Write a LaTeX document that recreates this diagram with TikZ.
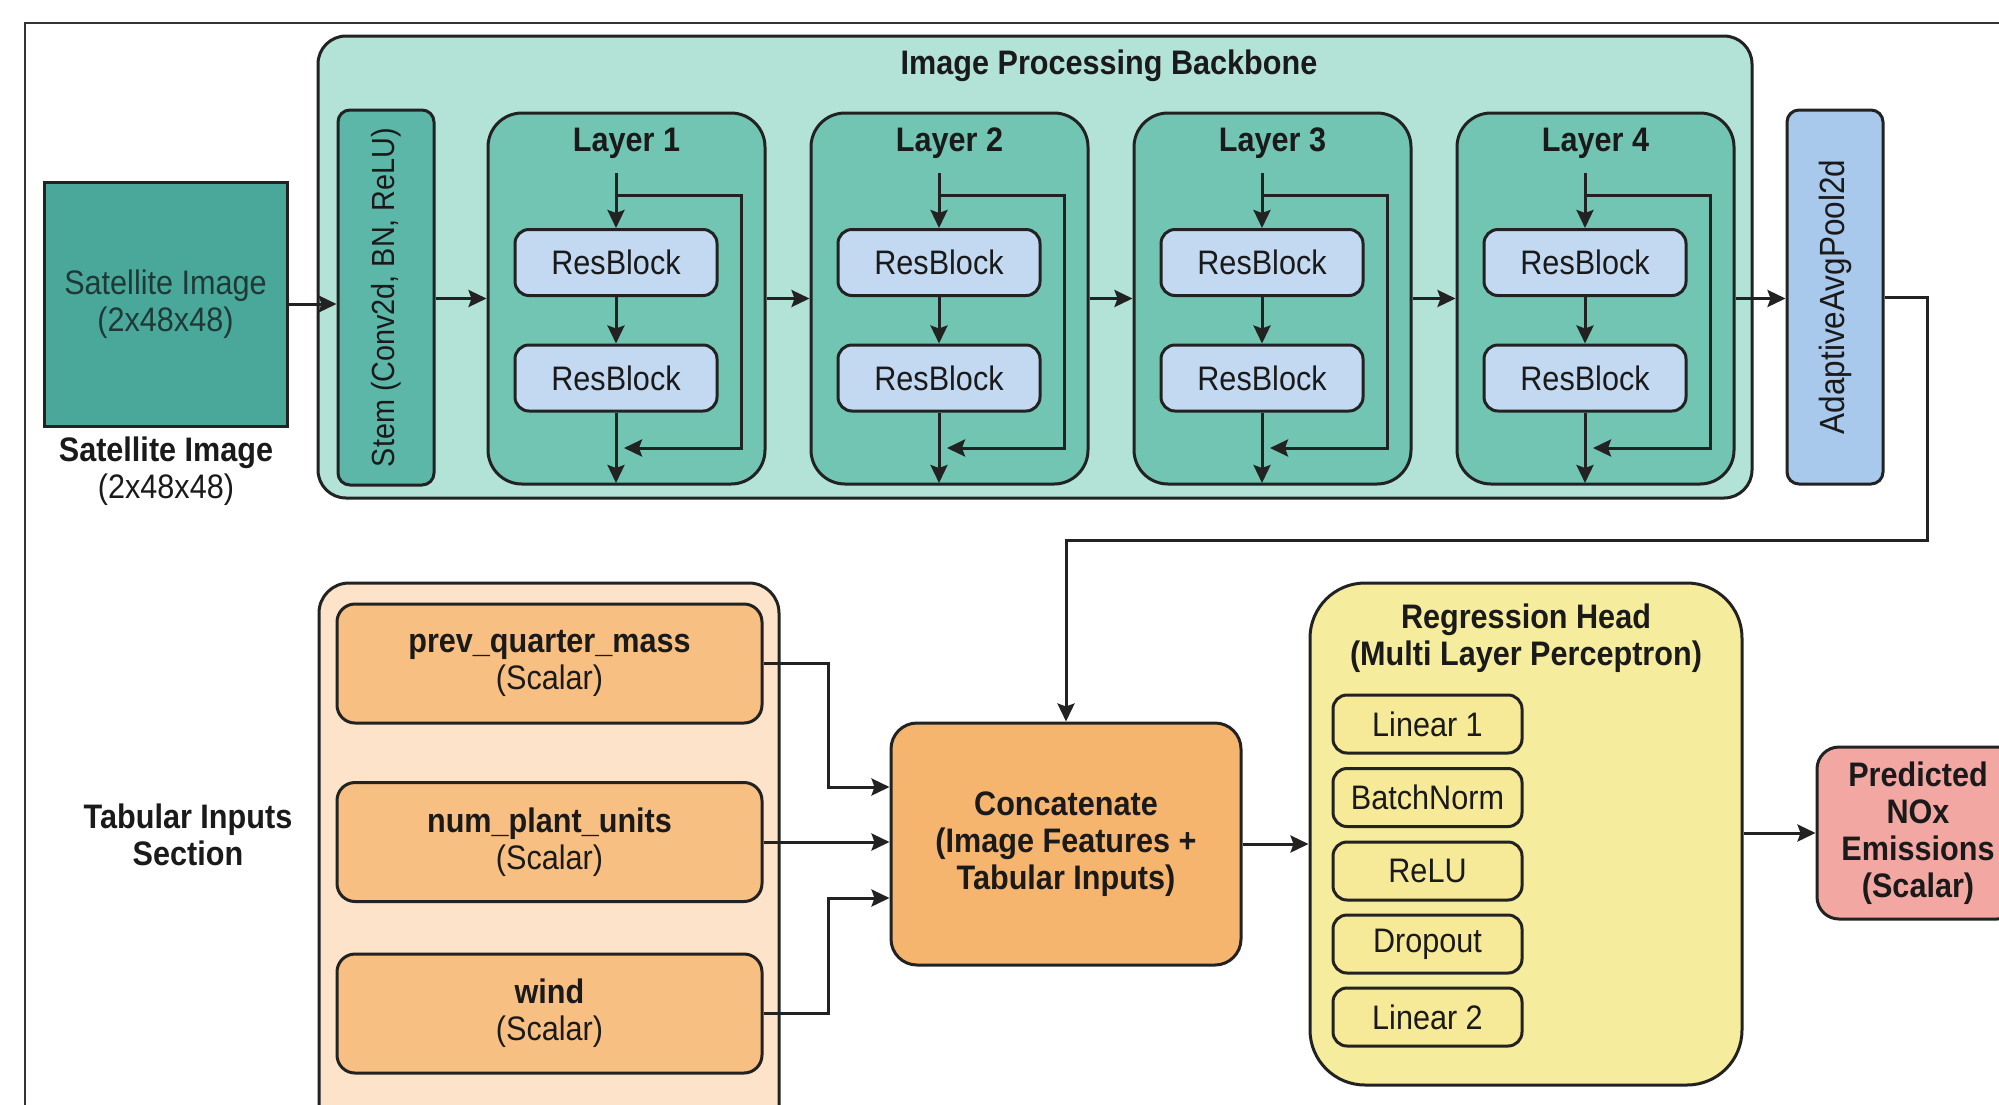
\documentclass[tikz,border=0pt]{standalone}
\usepackage{fontspec}
\setmainfont{Liberation Sans}[FakeStretch=0.9]
\usetikzlibrary{arrows.meta,calc}
\definecolor{edge}{HTML}{222222}
\definecolor{txt}{HTML}{1A1A1A}
\definecolor{framec}{HTML}{333333}
\definecolor{bbc}{HTML}{B3E3D7}
\definecolor{satc}{HTML}{4AA89B}
\definecolor{stemc}{HTML}{5CB7A8}
\definecolor{layerc}{HTML}{72C5B2}
\definecolor{resc}{HTML}{C3D9F2}
\definecolor{poolc}{HTML}{A8C9EC}
\definecolor{tabc}{HTML}{FCE3C9}
\definecolor{tabbox}{HTML}{F8BF82}
\definecolor{catc}{HTML}{F6B56E}
\definecolor{headc}{HTML}{F6EC9D}
\definecolor{mlpc}{HTML}{F6EA98}
\definecolor{predc}{HTML}{F2A7A2}
\definecolor{sattxt}{HTML}{1F3A36}
\begin{document}
\begin{tikzpicture}[x=1pt,y=-1pt,
  font=\fontsize{34}{37}\selectfont,
  bx/.style={draw=edge,line width=3pt,inner sep=0pt,align=center,text=txt},
  bold/.style={font=\fontsize{34}{37}\selectfont\bfseries,text=txt,align=center,inner sep=0pt},
  plain/.style={text=txt,align=center,inner sep=0pt},
  arr/.style={draw=edge,line width=3pt,-{Stealth[length=18pt,width=17pt,inset=3pt]}},
]
\useasboundingbox (0,0) rectangle (1999,1104);
\clip (0,0) rectangle (1999,1104);
\fill[white] (0,0) rectangle (1999,1104);
% outer frame
\draw[draw=framec,line width=2pt] (25,1120) -- (25,23) -- (2020,23);

% backbone container
\node[bx,fill=bbc,minimum width=1434pt,minimum height=462pt,rounded corners=28pt] (bb) at (1035,267) {};
\node[bold] (bbtitle) at (1109,66) {Image Processing Backbone};

% satellite image
\node[bx,fill=satc,minimum width=243pt,minimum height=244pt,text=sattxt] (sat) at (165.5,304) {Satellite Image\\(2x48x48)};
\node[plain] (satlbl) at (166,471) {{\bfseries Satellite Image}\\(2x48x48)};

% stem (rotated: north = left side, south = right side)
\node[bx,fill=stemc,minimum width=375pt,minimum height=96pt,rounded corners=12pt,rotate=90,font=\fontsize{32}{36}\selectfont] (stem) at (386,297.5) {Stem (Conv2d, BN, ReLU)};

% layers
\foreach \k [evaluate=\k as \n using int(\k+1),
             evaluate=\k as \cx using 626.5+323*\k,
             evaluate=\k as \mx using 616+323*\k,
             evaluate=\k as \sx using 741+323*\k,
             evaluate=\k as \tx using 624+323*\k] in {0,1,2,3} {
  \node[bx,fill=layerc,minimum width=277pt,minimum height=371pt,rounded corners=34pt] (L\k) at (\cx,298.5) {};
  \node[bold] (LT\k) at (\cx,143) {Layer \n};
  \node[bx,fill=resc,minimum width=202pt,minimum height=66pt,rounded corners=14pt] (RA\k) at (\mx,262.5) {ResBlock};
  \node[bx,fill=resc,minimum width=202pt,minimum height=66pt,rounded corners=14pt] (RB\k) at (\mx,378) {ResBlock};
  \coordinate (in\k) at (\mx,173);
  \coordinate (out\k) at (\mx,483);
  \coordinate (s1\k) at (\mx,195);
  \coordinate (s2\k) at (\sx,195);
  \coordinate (s3\k) at (\sx,448);
  \coordinate (s4\k) at (\tx,448);
  \draw[arr] (in\k) -- (RA\k.north);
  \draw[arr] (RA\k.south) -- (RB\k.north);
  \draw[arr] (RB\k.south) -- (out\k);
  \draw[arr] (s1\k) -- (s2\k) -- (s3\k) -- (s4\k);
}

% pool (rotated: north = left side, south = right side)
\node[bx,fill=poolc,minimum width=374pt,minimum height=96pt,rounded corners=12pt,rotate=90,font=\fontsize{35}{38}\selectfont] (pool) at (1835,297) {AdaptiveAvgPool2d};

% backbone arrows
\draw[arr] (sat.east) -- (sat.east -| stem.north);
\draw[arr] (stem.south |- L0.west) -- (L0.west);
\draw[arr] (L0.east) -- (L1.west);
\draw[arr] (L1.east) -- (L2.west);
\draw[arr] (L2.east) -- (L3.west);
\draw[arr] (L3.east) -- (L3.east -| pool.north);

% tabular section
\node[bx,fill=tabc,minimum width=460pt,minimum height=560pt,rounded corners=30pt] (tab) at (549,863) {};
\node[bold] (tablbl) at (188,835) {Tabular Inputs\\Section};
\node[bx,fill=tabbox,minimum width=425pt,minimum height=119pt,rounded corners=18pt] (prev) at (549.5,663.5) {{\bfseries prev\_quarter\_mass}\\(Scalar)};
\node[bx,fill=tabbox,minimum width=425pt,minimum height=119pt,rounded corners=18pt] (num) at (549.5,842) {{\bfseries num\_plant\_units}\\(Scalar)};
\node[bx,fill=tabbox,minimum width=425pt,minimum height=119pt,rounded corners=18pt] (wind) at (549.5,1013.5) {{\bfseries wind}\\(Scalar)};

% concatenate
\node[bx,fill=catc,minimum width=350pt,minimum height=242pt,rounded corners=26pt,font=\fontsize{34}{37}\selectfont\bfseries] (cat) at (1066,844) {Concatenate\\(Image Features +\\Tabular Inputs)};

% regression head
\node[bx,fill=headc,minimum width=432pt,minimum height=502pt,rounded corners=55pt] (head) at (1526,834) {};
\node[bold] (headtitle) at (1526,638) {Regression Head\\(Multi Layer Perceptron)};
\node[bx,fill=mlpc,minimum width=189pt,minimum height=58pt,rounded corners=14pt] (m1) at (1427.5,724) {Linear 1};
\node[bx,fill=mlpc,minimum width=189pt,minimum height=58pt,rounded corners=14pt] (m2) at (1427.5,797.5) {BatchNorm};
\node[bx,fill=mlpc,minimum width=189pt,minimum height=58pt,rounded corners=14pt] (m3) at (1427.5,871) {ReLU};
\node[bx,fill=mlpc,minimum width=189pt,minimum height=58pt,rounded corners=14pt] (m4) at (1427.5,944) {Dropout};
\node[bx,fill=mlpc,minimum width=189pt,minimum height=58pt,rounded corners=14pt] (m5) at (1427.5,1017) {Linear 2};

% prediction
\node[bx,fill=predc,minimum width=202pt,minimum height=172pt,rounded corners=22pt,font=\fontsize{34}{37}\selectfont\bfseries] (pred) at (1918,833) {Predicted\\NOx\\Emissions\\(Scalar)};

% lower connectors
\draw[arr] (pool.south) -- ++(43,0) -- ++(0,243) -| (cat.north);
\draw[arr] (prev.east) -- ++(65,0) |- ($(cat.west)+(0,-57)$);
\draw[arr] (num.east) -- (num.east -| cat.west);
\draw[arr] (wind.east) -- ++(65,0) |- ($(cat.west)+(0,54)$);
\draw[arr] (cat.east) -- (cat.east -| head.west);
\draw[arr] (pred.west -| head.east) -- (pred.west);
\end{tikzpicture}
\end{document}
